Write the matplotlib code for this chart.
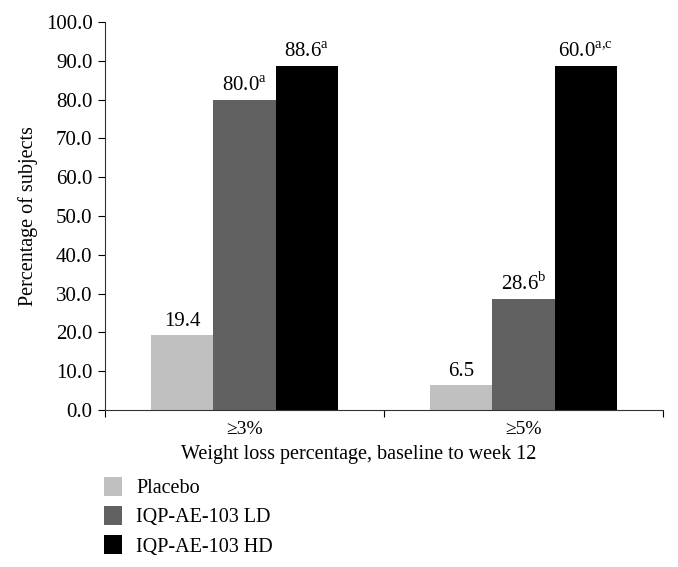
import numpy as np
import matplotlib
matplotlib.use('Agg')
import matplotlib.pyplot as plt
from matplotlib.patches import Patch

# Fonts: serif like the journal figure
plt.rcParams['font.family'] = ['Liberation Serif', 'DejaVu Serif']
plt.rcParams['mathtext.fontset'] = 'custom'
plt.rcParams['mathtext.rm'] = 'Liberation Serif'
plt.rcParams['font.size'] = 14

# Data
categories = ['\u22653%', '\u22655%']
groups = ['Placebo', 'IQP-AE-103 LD', 'IQP-AE-103 HD']
placebo = [19.4, 6.5]
low_dose = [80.0, 28.6]
high_dose = [88.6, 88.6]   # bar drawn at 88.6 in the source, labelled 60.0
labels = [['19.4', '6.5'],
          ['80.0$^{\\mathrm{a}}$', '28.6$^{\\mathrm{b}}$'],
          ['88.6$^{\\mathrm{a}}$', '60.0$^{\\mathrm{a{,}c}}$']]
colors = ['#c0c0c0', '#616161', '#000000']

fig = plt.figure(figsize=(6.78, 5.67), dpi=100)
ax = fig.add_axes([0.155, 0.277, 0.823, 0.684])

x = np.arange(len(categories))
w = 0.223
series = [placebo, low_dose, high_dose]
for i, vals in enumerate(series):
    pos = x + (i - 1) * w
    ax.bar(pos, vals, width=w, color=colors[i], edgecolor='none', label=groups[i])
    for px, v, s in zip(pos, vals, labels[i]):
        ax.annotate(s, (px, v), textcoords='offset points', xytext=(0, 3),
                    ha='center', va='bottom', fontsize=15)

ax.set_xlim(-0.5, 1.5)
ax.set_ylim(0, 100)
ax.set_yticks(np.arange(0, 101, 10))
ax.set_yticklabels(['%.1f' % t for t in np.arange(0, 101, 10)], fontsize=15)
ax.set_xticks([-0.5, 0.5, 1.5])
ax.set_xticklabels([])
ax.set_xticks(x, minor=True)
ax.set_xticklabels(categories, minor=True, fontsize=14)
ax.tick_params(axis='x', which='minor', length=0, pad=8)
ax.tick_params(axis='x', which='major', length=5, direction='out')
ax.tick_params(axis='y', length=5, direction='out', pad=4)
for sp in ['top', 'right']:
    ax.spines[sp].set_visible(False)
ax.spines['left'].set_color('#333333')
ax.spines['bottom'].set_color('#333333')

ax.set_xlabel('Weight loss percentage, baseline to week 12', fontsize=14.5)
ax.xaxis.set_label_coords(0.455, -0.09)
ax.set_ylabel('Percentage of subjects', labelpad=6, fontsize=14.5)

handles = [Patch(facecolor=c, edgecolor='none') for c in colors]
fig.legend(handles, groups, loc='upper left', bbox_to_anchor=(0.153, 0.159),
           frameon=False, handlelength=0.93, handleheight=1.05, handletextpad=0.67,
           labelspacing=0.40, borderaxespad=0, borderpad=0, fontsize=14.5)

plt.savefig('out.png', dpi=100)
